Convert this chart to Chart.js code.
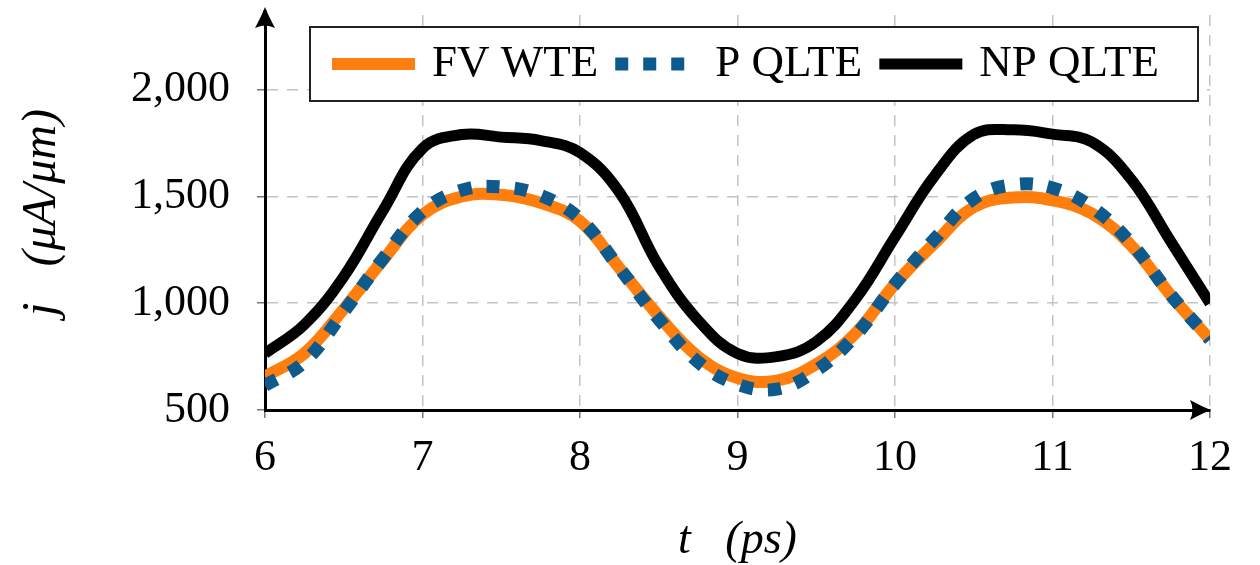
<!DOCTYPE html>
<html>
<head>
<meta charset="utf-8">
<script src="https://cdn.jsdelivr.net/npm/chart.js@4.4.1/dist/chart.umd.min.js"></script>
<style>
  html, body { margin: 0; padding: 0; background: #fff; }
</style>
</head>
<body>
<canvas id="chart" width="1260" height="565"></canvas>
<script>
// time samples (ps) and current density (uA/um)
const timePs = [6, 6.25, 6.5, 6.75, 7, 7.25, 7.5, 7.75, 8, 8.25, 8.5, 8.75, 9,
                9.25, 9.5, 9.75, 10, 10.25, 10.5, 10.75, 11, 11.25, 11.5, 11.75, 12];
const fvWte  = [656, 765, 973, 1203, 1415, 1500, 1508, 1470, 1385, 1165, 940, 750, 650,
                638, 715, 860, 1090, 1280, 1450, 1495, 1482, 1420, 1270, 1038, 830];
const pQlte  = [615, 725, 960, 1210, 1430, 1530, 1545, 1505, 1395, 1165, 925, 725, 620,
                598, 685, 850, 1090, 1300, 1490, 1555, 1540, 1450, 1280, 1040, 830];
const npQlte = [765, 900, 1125, 1435, 1725, 1790, 1778, 1762, 1705, 1520, 1175, 920, 765,
                750, 820, 1020, 1310, 1595, 1790, 1812, 1792, 1755, 1580, 1290, 1000];

const seriesNames = ['FV WTE', 'P QLTE', 'NP QLTE'];
const xTicks = [6, 7, 8, 9, 10, 11, 12];
const yTicks = [500, 1000, 1500, 2000];

const SERIF = '"Liberation Serif", "DejaVu Serif", serif';

function toPoints(values) {
    return values.map((v, i) => ({ x: timePs[i], y: v }));
}

// boxed legend inside the plot, like the pgfplots one
const boxedLegend = {
    id: 'boxedLegend',
    afterDatasetsDraw(chart) {
        const ctx = chart.ctx;
        const box = { left: 310, top: 27, right: 1198, bottom: 101 };
        ctx.save();
        ctx.fillStyle = '#fff';
        ctx.fillRect(box.left, box.top, box.right - box.left, box.bottom - box.top);
        ctx.strokeStyle = '#222';
        ctx.lineWidth = 2;
        ctx.strokeRect(box.left, box.top, box.right - box.left, box.bottom - box.top);

        ctx.font = '45px ' + SERIF;
        ctx.textBaseline = 'alphabetic';
        ctx.textAlign = 'left';
        const midY = 64;
        let x = box.left + 22;
        chart.data.datasets.forEach(ds => {
            ctx.beginPath();
            ctx.strokeStyle = ds.borderColor;
            ctx.lineWidth = ds.borderWidth;
            ctx.lineCap = 'butt';
            ctx.setLineDash(ds.borderDash || []);
            ctx.moveTo(x, midY);
            ctx.lineTo(x + 83, midY);
            ctx.stroke();
            ctx.setLineDash([]);
            x += 83 + 17;
            ctx.fillStyle = '#000';
            ctx.fillText(ds.label, x, 76);
            x += ctx.measureText(ds.label).width + 17;
        });
        ctx.restore();
    }
};

// arrow heads on the two axis lines
const axisArrows = {
    id: 'axisArrows',
    afterDraw(chart) {
        const { ctx, chartArea } = chart;
        const drawHead = (tx, ty, angle) => {
            ctx.save();
            ctx.translate(tx, ty);
            ctx.rotate(angle);
            ctx.fillStyle = '#000';
            ctx.beginPath();
            ctx.moveTo(0, 0);
            ctx.quadraticCurveTo(-8, 3, -21, 10);
            ctx.quadraticCurveTo(-16, 0, -21, -10);
            ctx.quadraticCurveTo(-8, -3, 0, 0);
            ctx.fill();
            ctx.restore();
        };
        ctx.save();
        ctx.strokeStyle = '#000';
        ctx.lineWidth = 3;
        ctx.beginPath();
        ctx.moveTo(chartArea.left, chartArea.top);
        ctx.lineTo(chartArea.left, 10);
        ctx.stroke();
        ctx.restore();
        drawHead(chartArea.left, 7, -Math.PI / 2);
        drawHead(chartArea.right + 1, chartArea.bottom, 0);
    }
};

new Chart(document.getElementById('chart'), {
    type: 'line',
    data: {
        datasets: [
            {
                label: seriesNames[0],
                data: toPoints(fvWte),
                borderColor: '#ff7f0e',
                borderWidth: 12,
                order: 1
            },
            {
                label: seriesNames[1],
                data: toPoints(pQlte),
                borderColor: '#0f5a8c',
                borderWidth: 13,
                borderDash: [13, 15],
                borderCapStyle: 'butt',
                order: 0
            },
            {
                label: seriesNames[2],
                data: toPoints(npQlte),
                borderColor: '#000000',
                borderWidth: 11,
                order: 2
            }
        ]
    },
    options: {
        responsive: false,
        animation: false,
        devicePixelRatio: 1,
        elements: {
            point: { radius: 0 },
            line: { tension: 0.4, borderJoinStyle: 'round' }
        },
        layout: { padding: { top: 15, right: 50, left: 0, bottom: 0 } },
        plugins: {
            legend: { display: false },
            tooltip: { enabled: false }
        },
        scales: {
            x: {
                type: 'linear',
                min: 6,
                max: 12,
                afterBuildTicks: (scale) => { scale.ticks = xTicks.map(v => ({ value: v })); },
                afterFit: (scale) => {
                    scale.height = 155;
                    scale.paddingLeft = 0;
                    scale.paddingRight = 0;
                },
                grid: {
                    color: '#c4c4c4',
                    lineWidth: 1.5,
                    tickLength: 8,
                    tickColor: '#777'
                },
                border: { color: '#000', width: 3, dash: [11, 9] },
                ticks: {
                    color: '#000',
                    padding: 14,
                    font: { family: SERIF, size: 44 },
                    callback: (v) => String(v)
                },
                title: {
                    display: true,
                    text: 't   (ps)',
                    color: '#000',
                    font: { family: SERIF, size: 46, style: 'italic', lineHeight: 1 },
                    padding: { top: 0, bottom: 1 }
                }
            },
            y: {
                min: 500,
                max: 2350,
                afterBuildTicks: (scale) => { scale.ticks = yTicks.map(v => ({ value: v })); },
                afterFit: (scale) => {
                    scale.width = 265;
                    scale.paddingTop = 0;
                    scale.paddingBottom = 0;
                },
                grid: {
                    color: '#c4c4c4',
                    lineWidth: 1.5,
                    tickLength: 8,
                    tickColor: '#777'
                },
                border: { color: '#000', width: 3, dash: [11, 9] },
                ticks: {
                    color: '#000',
                    padding: 27,
                    font: { family: SERIF, size: 44 },
                    callback: (v) => v.toLocaleString('en-US')
                },
                title: {
                    display: true,
                    text: 'j   (μA/μm)',
                    color: '#000',
                    font: { family: SERIF, size: 48, style: 'italic', lineHeight: 1 },
                    padding: { top: 18, bottom: 0 }
                }
            }
        }
    },
    plugins: [boxedLegend, axisArrows]
});
</script>
</body>
</html>
